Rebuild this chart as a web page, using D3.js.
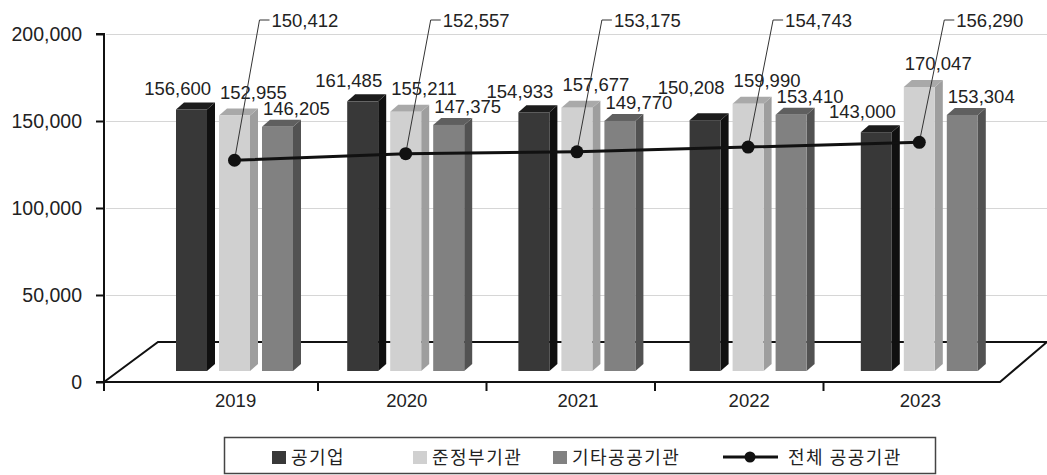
<!DOCTYPE html>
<html><head><meta charset="utf-8">
<script src="https://cdn.jsdelivr.net/npm/d3@7"></script>
<style>
html,body{margin:0;padding:0;background:#fff;}
svg{display:block;}
</style></head>
<body>
<svg id="chart" width="1047" height="475"></svg>
<script>
const years = ["2019","2020","2021","2022","2023"];
const seriesNames = ["공기업","준정부기관","기타공공기관"];
const gongGiup = [156600,161485,154933,150208,143000];
const junJeongbu = [152955,155211,157677,159990,170047];
const gitaGonggong = [146205,147375,149770,153410,153304];
const totalName = "전체 공공기관";
const totalValues = [150412,152557,153175,154743,156290];
const yTicks = [0,50000,100000,150000,200000];

const barSeries = [gongGiup, junJeongbu, gitaGonggong];
const colors = [
  {front:"#383838", side:"#101010", top:"#1c1c1c"},
  {front:"#d0d0d0", side:"#9e9e9e", top:"#a9a9a9"},
  {front:"#818181", side:"#525252", top:"#5f5f5f"}
];
const labelLift = [14, 17, 12];
const numFont = "'Liberation Sans', Arial, sans-serif";
const krFont = "'Noto Sans CJK KR', 'Noto Sans', sans-serif";
const fmt = d3.format(",");

const svg = d3.select("#chart");

const y = d3.scaleLinear().domain([0,200000]).range([382,34]);
const yBar = d3.scaleLinear().domain([0,200000]).range([371,37]);
const yLine = d3.scaleLinear().domain([140000,160000]).range([192,131]);
const x = d3.scaleBand().domain(years).range([150,1006]);
const xSub = d3.scaleBand().domain(d3.range(3)).range([26,143]).paddingInner(12/43).paddingOuter(0);
const xTick = d3.scaleBand().domain(years).range([149.5,992]);
const DX = 8, DY = 7;

// gridlines
svg.append("g").selectAll("line").data(yTicks.filter(d=>d>0)).join("line")
  .attr("x1",106).attr("x2",1047)
  .attr("y1",d=>y(d)+0.5).attr("y2",d=>y(d)+0.5)
  .attr("stroke","#d6d6d6").attr("stroke-width",1.2);

// floor back line + left diagonal
svg.append("path").attr("d","M104,382 L158,342 L1047,342")
  .attr("stroke","#111").attr("stroke-width",2).attr("fill","none");

// bars
const bars = svg.append("g");
years.forEach((yr,i)=>{
  barSeries.forEach((vals,s)=>{
    const v = vals[i];
    const x0 = x(yr)+xSub(s), w = xSub.bandwidth();
    const t = yBar(v), b = yBar(0);
    const c = colors[s];
    bars.append("path").attr("d",`M${x0+w},${t} L${x0+w+DX},${t-DY} L${x0+w+DX},${b-DY} L${x0+w},${b} Z`).attr("fill",c.side);
    bars.append("path").attr("d",`M${x0},${t} L${x0+DX},${t-DY} L${x0+w+DX},${t-DY} L${x0+w},${t} Z`).attr("fill",c.top);
    bars.append("rect").attr("x",x0).attr("y",t).attr("width",w).attr("height",b-t).attr("fill",c.front);
  });
});

// bar labels with simple collision avoidance (later labels move up)
const lab = svg.append("g").attr("font-family",numFont).attr("font-size","18.5px").attr("fill","#222");
const placed = [];
const CAP = 13.5;
years.forEach((yr,i)=>{
  barSeries.forEach((vals,s)=>{
    const v = vals[i];
    const x0 = x(yr)+xSub(s), w = xSub.bandwidth();
    let base = yBar(v) - DY - labelLift[s] + 7;
    const anchor = s===0 ? "end" : "start";
    const tx = s===0 ? x0+w+4 : x0+1;
    const t = lab.append("text").attr("x",tx).attr("text-anchor",anchor).text(fmt(v));
    const len = t.node().getComputedTextLength();
    const left = anchor==="end" ? tx-len : tx, right = left+len;
    let moved = true;
    while (moved) {
      moved = false;
      for (const p of placed) {
        if (left < p.right && right > p.left && base > p.top - 1 && base - CAP < p.bottom) {
          base = p.top - 1.5; moved = true;
        }
      }
    }
    t.attr("y", base);
    placed.push({left,right,top:base-CAP,bottom:base});
  });
});

// front floor line (x axis)
svg.append("path").attr("d","M104,382 L1000,382 L1047,342")
  .attr("stroke","#111").attr("stroke-width",2).attr("fill","none");
// x ticks
svg.append("g").selectAll("line").data(years.slice(1)).join("line")
  .attr("x1",d=>xTick(d)).attr("x2",d=>xTick(d)).attr("y1",382).attr("y2",391)
  .attr("stroke","#111").attr("stroke-width",2);
svg.append("line").attr("x1",104).attr("x2",104).attr("y1",382).attr("y2",391).attr("stroke","#111").attr("stroke-width",2);
// x labels
svg.append("g").selectAll("text").data(years).join("text")
  .attr("x",d=>x(d)+x.bandwidth()/2).attr("y",407)
  .attr("text-anchor","middle").attr("font-family",numFont).attr("font-size","18.5px").attr("fill","#222")
  .text(d=>d);

// y axis
const yAxis = d3.axisLeft(y).tickValues(yTicks).tickFormat(fmt).tickSize(8).tickPadding(14);
const ga = svg.append("g").attr("transform","translate(104,0)").call(yAxis);
ga.select(".domain").attr("stroke","#111").attr("stroke-width",2).attr("d","M-8,34H0V382H-8");
ga.selectAll(".tick line").attr("stroke","#111").attr("stroke-width",2);
ga.selectAll(".tick text").attr("font-family",numFont).attr("font-size","19.5px").attr("fill","#222");

// total line
const lx = (d,i)=> x(years[i]) + xSub(1) + xSub.bandwidth()/2;
const line = d3.line().x((d,i)=>lx(d,i)).y(d=>yLine(d));
svg.append("path").datum(totalValues).attr("d",line).attr("stroke","#111").attr("stroke-width",3).attr("fill","none");
// leaders
const LTOP = 20;
totalValues.forEach((v,i)=>{
  const px = lx(v,i), py = yLine(v);
  svg.append("path").attr("d",`M${px},${py} L${px+25},${LTOP} L${px+35},${LTOP}`)
    .attr("stroke","#333").attr("stroke-width",1).attr("fill","none");
  svg.append("text").attr("x",px+37).attr("y",LTOP+7)
    .attr("font-family",numFont).attr("font-size","18.5px").attr("fill","#222").text(fmt(v));
});
svg.append("g").selectAll("circle").data(totalValues).join("circle")
  .attr("cx",(d,i)=>lx(d,i)).attr("cy",d=>yLine(d)).attr("r",6.5).attr("fill","#111");

// legend
const lg = svg.append("g");
lg.append("rect").attr("x",224.5).attr("y",437.5).attr("width",711).attr("height",36)
  .attr("fill","#fff").attr("stroke","#444").attr("stroke-width",1.5);
const legX = [272,413,553];
seriesNames.forEach((n,s)=>{
  lg.append("rect").attr("x",legX[s]).attr("y",451).attr("width",14).attr("height",13).attr("fill",colors[s].front);
  lg.append("text").attr("x",legX[s]+19).attr("y",464).attr("font-family",krFont).attr("font-size","18px")
    .attr("letter-spacing","1.5px").attr("fill","#222").text(n);
});
lg.append("line").attr("x1",723).attr("x2",778).attr("y1",457).attr("y2",457).attr("stroke","#111").attr("stroke-width",3);
lg.append("circle").attr("cx",750).attr("cy",457).attr("r",5.5).attr("fill","#111");
lg.append("text").attr("x",788).attr("y",464).attr("font-family",krFont).attr("font-size","18px")
  .attr("letter-spacing","1.5px").attr("fill","#222").text(totalName);
</script>
</body></html>
